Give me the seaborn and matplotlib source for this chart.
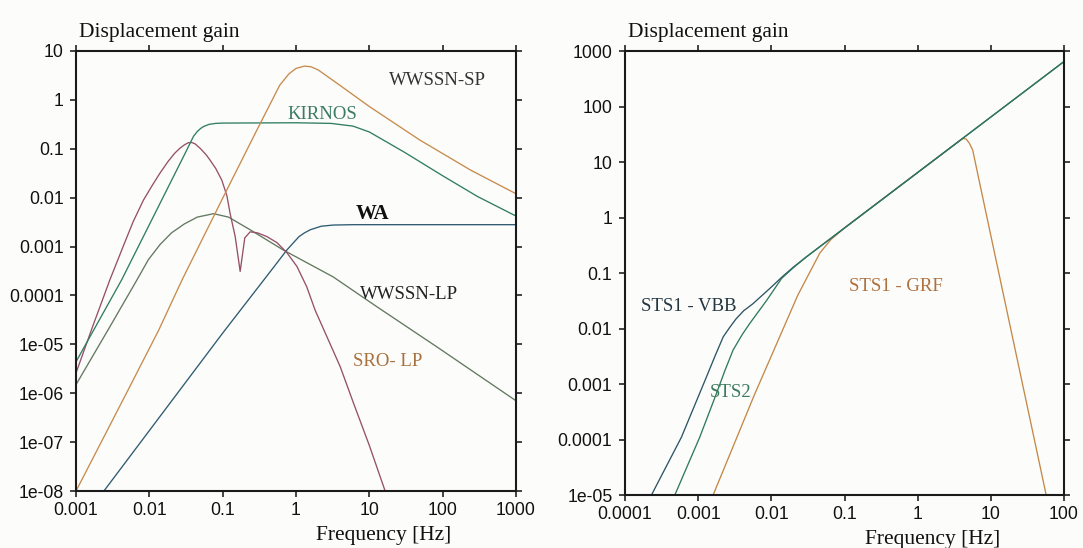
import matplotlib
matplotlib.use("Agg")
import matplotlib.pyplot as plt
import pandas as pd
import seaborn as sns

# ---- left panel: classic instruments (frequency [Hz] -> displacement gain)
wwssn_sp_f = [0.001, 0.0046, 0.0133, 0.028, 0.108, 0.3, 0.6, 0.8, 1.0, 1.3, 1.6, 2.0, 3.6, 10, 49, 237, 1000]
wwssn_sp_g = [1e-8, 8.5e-7, 1.9e-5, 2.1e-4, 0.0123, 0.26, 2.0, 3.4, 4.4, 4.9, 4.75, 4.1, 2.2, 0.73, 0.15, 0.037, 0.012]

kirnos_f = [0.001, 0.0042, 0.0202, 0.03, 0.04, 0.045, 0.05, 0.055, 0.065, 0.08, 0.1, 1, 3, 6, 10, 15, 30, 100, 300, 1000]
kirnos_g = [4.4e-6, 2.1e-4, 0.023, 0.075, 0.18, 0.225, 0.26, 0.285, 0.315, 0.33, 0.335, 0.34, 0.33, 0.29, 0.22,
            0.155, 0.085, 0.028, 0.0105, 0.0042]

wa_f = [0.0024, 0.1, 0.44, 0.75, 0.9, 1.1, 1.3, 1.56, 2.2, 3.2, 6, 1000]
wa_g = [1e-8, 1.7e-5, 3e-4, 8.5e-4, 0.00115, 0.0016, 0.0019, 0.0022, 0.0026, 0.00275, 0.0028, 0.0028]

wwssn_lp_f = [0.001, 0.0029, 0.0068, 0.0097, 0.014, 0.02, 0.03, 0.045, 0.075, 0.12, 0.237, 0.67, 3.2, 12.6, 83, 1000]
wwssn_lp_g = [1.5e-6, 2.3e-5, 2.1e-4, 5.4e-4, 0.0011, 0.0019, 0.0029, 0.0040, 0.0047, 0.0040, 0.0022, 8.5e-4,
              2.4e-4, 5.9e-5, 8.9e-6, 7e-7]

sro_lp_f = [0.001, 0.0017, 0.0029, 0.0045, 0.006, 0.0083, 0.011, 0.014, 0.018, 0.022, 0.026, 0.03, 0.034, 0.038,
            0.042, 0.05, 0.06, 0.067, 0.08, 0.097, 0.114, 0.126, 0.148, 0.173, 0.2, 0.237, 0.3, 0.4, 0.55, 0.75,
            1.03, 1.4, 1.82, 2.6, 4, 6.07, 10, 16.4]
sro_lp_g = [2.6e-6, 2.4e-5, 2.1e-4, 0.0011, 0.0032, 0.0089, 0.018, 0.032, 0.055, 0.08, 0.102, 0.12, 0.133, 0.134,
            0.126, 0.1, 0.074, 0.059, 0.04, 0.023, 0.011, 0.0048, 0.0016, 3.1e-4, 0.0015, 0.002, 0.0019, 0.0016,
            0.0012, 7.5e-4, 3.9e-4, 1.5e-4, 5e-5, 1.5e-5, 3.5e-6, 6.3e-7, 8.5e-8, 1e-8]

# ---- right panel: broadband sensors
sts1_vbb_f = [2.3e-4, 5.9e-4, 0.0013, 0.0017, 0.0022, 0.0027, 0.0033, 0.0042, 0.0056, 0.01, 0.0144, 0.02, 0.03,
              0.1, 1, 10, 100]
sts1_vbb_g = [1e-5, 1.1e-4, 0.00135, 0.0032, 0.0071, 0.0105, 0.015, 0.021, 0.028, 0.056, 0.088, 0.128, 0.195,
              0.65, 6.5, 65, 650]

sts2_f = [4.8e-4, 0.00105, 0.00178, 0.0023, 0.003, 0.004, 0.0051, 0.0086, 0.0138, 0.02, 0.03, 0.1, 1, 10, 100]
sts2_g = [1e-5, 1.1e-4, 6.8e-4, 0.0017, 0.0041, 0.0078, 0.0125, 0.032, 0.08, 0.125, 0.195, 0.65, 6.5, 65, 650]

sts1_grf_f = [0.0016, 0.0059, 0.023, 0.046, 0.065, 0.086, 0.1, 1, 4.13, 4.6, 5.1, 5.65, 7, 10, 22, 57]
sts1_grf_g = [1e-5, 6.5e-4, 0.04, 0.23, 0.4, 0.55, 0.65, 6.5, 26.7, 26, 21.7, 16.4, 4.3, 0.47, 0.0036, 1e-5]

left_xticks = [0.001, 0.01, 0.1, 1, 10, 100, 1000]
left_xlabels = ["0.001", "0.01", "0.1", "1", "10", "100", "1000"]
left_yticks = [10, 1, 0.1, 0.01, 0.001, 1e-4, 1e-5, 1e-6, 1e-7, 1e-8]
left_ylabels = ["10", "1", "0.1", "0.01", "0.001", "0.0001", "1e-05", "1e-06", "1e-07", "1e-08"]
right_xticks = [1e-4, 0.001, 0.01, 0.1, 1, 10, 100]
right_xlabels = ["0.0001", "0.001", "0.01", "0.1", "1", "10", "100"]
right_yticks = [1000, 100, 10, 1, 0.1, 0.01, 0.001, 1e-4, 1e-5]
right_ylabels = ["1000", "100", "10", "1", "0.1", "0.01", "0.001", "0.0001", "1e-05"]

left_colors = {"WWSSN-SP": "#c78b4c", "KIRNOS": "#2f7d62", "WA": "#2d5b70",
               "WWSSN-LP": "#63785f", "SRO-LP": "#95506a"}
right_colors = {"STS1 - VBB": "#2d5566", "STS2": "#2e7a5e", "STS1 - GRF": "#c48848"}

SERIF = "Liberation Serif"
SANS = "Liberation Sans"


def long_form(curves):
    frames = [pd.DataFrame({"freq": f, "gain": g, "instrument": name})
              for name, (f, g) in curves.items()]
    return pd.concat(frames, ignore_index=True)


def style_axes(ax, xlim, ylim, xt, xl, yt, yl):
    ax.set_xscale("log")
    ax.set_yscale("log")
    ax.set_xlim(*xlim)
    ax.set_ylim(*ylim)
    ax.set_xticks(xt, labels=xl)
    ax.set_yticks(yt, labels=yl)
    ax.minorticks_off()
    ax.tick_params(axis="both", direction="out", length=4, width=1.1, top=True, right=True,
                   labelsize=12.7, colors="#111111")
    ax.tick_params(axis="x", pad=4)
    ax.tick_params(axis="y", pad=5)
    ax.set_xlabel("")
    ax.set_ylabel("")
    for sp in ax.spines.values():
        sp.set_visible(True)
        sp.set_linewidth(1.5)
        sp.set_color("#1a1a1a")
    ax.text(0.007, 1.042, "Displacement gain", transform=ax.transAxes, ha="left", va="center",
            fontsize=15.5, family=SERIF, color="#111111")
    ax.text(0.70, -0.10, "Frequency [Hz]", transform=ax.transAxes, ha="center", va="center",
            fontsize=15.5, family=SERIF, color="#111111")


sns.set_style("ticks")
plt.rcParams["font.family"] = [SANS, "DejaVu Sans"]

fig = plt.figure(figsize=(10.83, 5.48), dpi=100, facecolor="#fcfcfb")
ax_l = fig.add_axes([0.0702, 0.104, 0.4063, 0.803])
ax_r = fig.add_axes([0.5771, 0.0967, 0.4054, 0.810])
for ax in (ax_l, ax_r):
    ax.set_facecolor("#fcfcfb")

left_df = long_form({
    "WWSSN-LP": (wwssn_lp_f, wwssn_lp_g),
    "WA": (wa_f, wa_g),
    "SRO-LP": (sro_lp_f, sro_lp_g),
    "KIRNOS": (kirnos_f, kirnos_g),
    "WWSSN-SP": (wwssn_sp_f, wwssn_sp_g),
})
sns.lineplot(data=left_df, x="freq", y="gain", hue="instrument", palette=left_colors,
             hue_order=["WWSSN-LP", "WA", "SRO-LP", "KIRNOS", "WWSSN-SP"],
             estimator=None, sort=False, legend=False, linewidth=0.95, ax=ax_l)

right_df = long_form({
    "STS1 - GRF": (sts1_grf_f, sts1_grf_g),
    "STS1 - VBB": (sts1_vbb_f, sts1_vbb_g),
    "STS2": (sts2_f, sts2_g),
})
sns.lineplot(data=right_df, x="freq", y="gain", hue="instrument", palette=right_colors,
             hue_order=["STS1 - GRF", "STS1 - VBB", "STS2"],
             estimator=None, sort=False, legend=False, linewidth=0.95, ax=ax_r)

style_axes(ax_l, (0.001, 1000), (1e-8, 10), left_xticks, left_xlabels, left_yticks, left_ylabels)
style_axes(ax_r, (1e-4, 100), (1e-5, 1000), right_xticks, right_xlabels, right_yticks, right_ylabels)

# curve labels
lab = dict(family=SERIF, fontsize=13.5, ha="center", va="center")
ax_l.text(84, 2.5, "WWSSN-SP", color="#333333", **lab)
ax_l.text(2.3, 0.5, "KIRNOS", color="#3b7a63", **lab)
ax_l.text(11.2, 0.0047, "WA", color="#111111", family=SERIF, fontsize=15, fontweight="bold",
          ha="center", va="center")
ax_l.text(35, 1.05e-4, "WWSSN-LP", color="#222222", **lab)
ax_l.text(17.5, 4.5e-6, "SRO- LP", color="#a8703c", **lab)

ax_r.text(7.5e-4, 0.0254, "STS1 - VBB", color="#233640", **lab)
ax_r.text(0.0028, 6.9e-4, "STS2", color="#3a7a5c", **lab)
ax_r.text(0.51, 0.058, "STS1 - GRF", color="#b0703c", **lab)

fig.savefig("out.png", dpi=100, facecolor=fig.get_facecolor())
